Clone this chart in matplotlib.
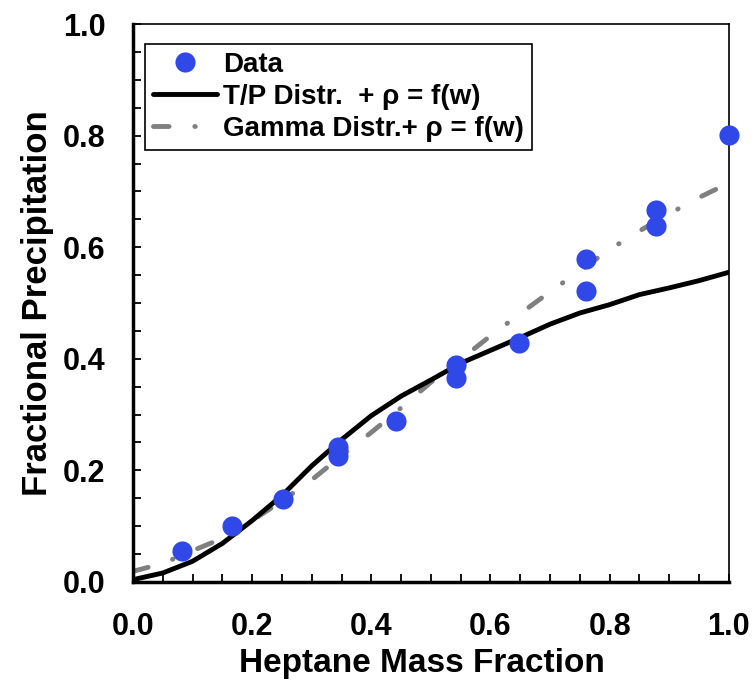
import numpy as np
import matplotlib
matplotlib.use("Agg")
import matplotlib.pyplot as plt
from matplotlib.ticker import MultipleLocator, FormatStrFormatter

plt.rcParams['font.family'] = ['Liberation Sans', 'DejaVu Sans']
plt.rcParams['font.weight'] = 'bold'

# measured points
data_x = [0.082, 0.166, 0.252, 0.344, 0.344, 0.441, 0.542, 0.542, 0.648,
          0.760, 0.760, 0.878, 0.878, 1.0]
data_y = [0.056, 0.100, 0.149, 0.242, 0.226, 0.289, 0.388, 0.365, 0.428,
          0.579, 0.522, 0.667, 0.638, 0.801]

# model curves
model_x = [0.0, 0.05, 0.1, 0.15, 0.2, 0.25, 0.3, 0.35, 0.4, 0.45, 0.5,
           0.55, 0.6, 0.65, 0.7, 0.75, 0.8, 0.85, 0.9, 0.95, 1.0]
tp_y = [0.004, 0.016, 0.037, 0.069, 0.110, 0.155, 0.208, 0.255, 0.298, 0.333,
        0.362, 0.392, 0.415, 0.438, 0.462, 0.482, 0.497, 0.515, 0.527, 0.540, 0.555]
gamma_y = [0.019, 0.033, 0.056, 0.078, 0.110, 0.145, 0.183, 0.226, 0.268, 0.312,
           0.358, 0.399, 0.441, 0.481, 0.520, 0.558, 0.596, 0.629, 0.660, 0.689, 0.715]

fig = plt.figure(figsize=(7.56, 6.87), dpi=100)
ax = fig.add_axes([0.176, 0.153, 0.788, 0.812])

ax.plot(model_x, tp_y, color='black', lw=3.5, solid_capstyle='round',
        label='T/P Distr.  + \u03c1 = f(w)', zorder=2)
ax.plot(model_x, gamma_y, color='#808080', lw=3.5, dash_capstyle='round',
        dashes=(3.2, 5.3, 0.1, 5.5), label='Gamma Distr.+ \u03c1 = f(w)', zorder=1)
ax.plot(data_x, data_y, 'o', color='#3048E8', ms=14.5, mec='none',
        label='Data', zorder=3, clip_on=False)

ax.set_xlim(0, 1)
ax.set_ylim(0, 1)
ax.xaxis.set_major_locator(MultipleLocator(0.2))
ax.yaxis.set_major_locator(MultipleLocator(0.2))
ax.xaxis.set_minor_locator(MultipleLocator(0.05))
ax.yaxis.set_minor_locator(MultipleLocator(0.05))
ax.tick_params(which='both', direction='in', length=6, width=1.3)
ax.tick_params(axis='x', labelsize=22, pad=22)
ax.tick_params(axis='y', labelsize=22, pad=20)
for lab in ax.get_xticklabels() + ax.get_yticklabels():
    lab.set_fontweight('bold')
ax.xaxis.set_major_formatter(FormatStrFormatter('%.1f'))
ax.yaxis.set_major_formatter(FormatStrFormatter('%.1f'))

ax.spines['left'].set_linewidth(2.5)
ax.spines['bottom'].set_linewidth(2.5)
ax.spines['top'].set_linewidth(1.2)
ax.spines['right'].set_linewidth(1.2)

ax.set_xlabel('Heptane Mass Fraction', fontsize=24, fontweight='bold', labelpad=4)
ax.set_ylabel('Fractional Precipitation', fontsize=25, fontweight='bold', labelpad=6)
ax.xaxis.label.set_x(0.485)

handles, labels = ax.get_legend_handles_labels()
order = [2, 0, 1]
leg = ax.legend([handles[i] for i in order], [labels[i] for i in order],
                loc='upper left', bbox_to_anchor=(0.02, 0.965), fontsize=20,
                frameon=True, fancybox=False, edgecolor='black', framealpha=1,
                borderpad=0.3, labelspacing=0.22, handlelength=2.3,
                handletextpad=0.2, borderaxespad=0)
leg.get_frame().set_linewidth(1.2)

fig.savefig('out.png', dpi=100)
